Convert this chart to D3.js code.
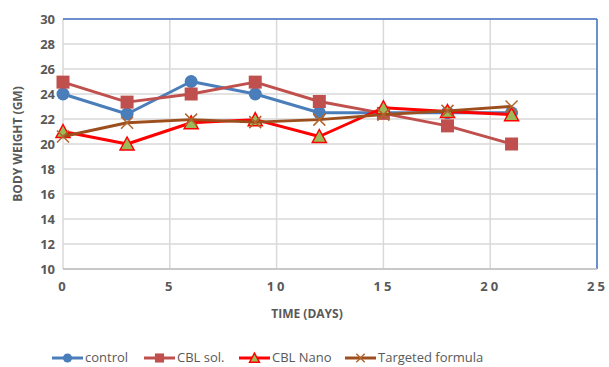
<!DOCTYPE html>
<html><head><meta charset="utf-8">
<script src="https://cdn.jsdelivr.net/npm/d3@7"></script>
<style>body{margin:0;background:#fff}svg{display:block}</style>
</head><body><svg id="c" width="609" height="367"></svg>
<script>
const days = [0, 3, 6, 9, 12, 15, 18, 21];
const control = [24, 22.4, 25, 24, 22.5, 22.5, 22.5, 22.5];
const cblSol = [24.95, 23.35, 24, 24.95, 23.4, 22.45, 21.45, 20];
const cblNano = [21, 20, 21.7, 21.95, 20.6, 22.9, 22.6, 22.35];
const targeted = [20.6, 21.7, 21.95, 21.75, 21.95, 22.35, 22.65, 23];
const seriesNames = ["control", "CBL sol.", "CBL Nano", "Targeted formula"];
const xTicks = [0, 5, 10, 15, 20, 25];
const yTicks = [10, 12, 14, 16, 18, 20, 22, 24, 26, 28, 30];

const svg = d3.select("#c");
const font = "'Open Sans', 'Liberation Sans', sans-serif";
const x = d3.scaleLinear().domain([0, 25]).range([63, 597]);
const y = d3.scaleLinear().domain([10, 30]).range([269, 19]);

// gridlines
svg.append("g").selectAll("line").data(yTicks).join("line")
  .attr("x1", x(0)).attr("x2", x(25)).attr("y1", d => y(d)).attr("y2", d => y(d))
  .attr("stroke", "#d9d9d9").attr("stroke-width", 1.5);
svg.append("g").selectAll("line").data(xTicks).join("line")
  .attr("y1", y(10)).attr("y2", y(30)).attr("x1", d => x(d)).attr("x2", d => x(d))
  .attr("stroke", "#d9d9d9").attr("stroke-width", 1.5);
// borders
svg.append("line").attr("x1", x(0)).attr("x2", x(25)).attr("y1", y(30)).attr("y2", y(30)).attr("stroke", "#4472c4").attr("stroke-width", 1.5);
svg.append("line").attr("x1", x(25)).attr("x2", x(25)).attr("y1", y(30)).attr("y2", y(10)).attr("stroke", "#4472c4").attr("stroke-width", 1.5);
svg.append("line").attr("x1", x(0)).attr("x2", x(25)).attr("y1", y(10)).attr("y2", y(10)).attr("stroke", "#bfbfbf").attr("stroke-width", 1.5);

// axes
const yAxis = d3.axisLeft(y).tickValues(yTicks).tickSize(0).tickPadding(8);
const gy = svg.append("g").attr("transform", `translate(${x(0)},0)`).call(yAxis);
gy.select(".domain").remove();
gy.selectAll("text").attr("font-family", font).attr("font-size", 13).attr("font-weight", "bold").attr("fill", "#595959");

const xAxis = d3.axisBottom(x).tickValues(xTicks).tickSize(0).tickPadding(10);
const gx = svg.append("g").attr("transform", `translate(0,${y(10)})`).call(xAxis);
gx.select(".domain").remove();
gx.selectAll("text").attr("font-family", font).attr("font-size", 13).attr("font-weight", "bold").attr("fill", "#595959").attr("letter-spacing", "3px").attr("dy", "0.9em");

svg.append("text").attr("x", 307).attr("y", 318).attr("text-anchor", "middle")
  .attr("font-family", font).attr("font-size", 12).attr("font-weight", "bold").attr("fill", "#595959").text("TIME (DAYS)");
svg.append("text").attr("transform", "translate(22,144) rotate(-90)").attr("text-anchor", "middle")
  .attr("font-family", font).attr("font-size", 12).attr("font-weight", "bold").attr("fill", "#595959").text("BODY WEIGHT (GM)");

const series = [
  {name: seriesNames[0], vals: control, color: "#4a7ebb", marker: "circle"},
  {name: seriesNames[1], vals: cblSol, color: "#c0504d", marker: "square"},
  {name: seriesNames[2], vals: cblNano, color: "#ff0000", marker: "triangle"},
  {name: seriesNames[3], vals: targeted, color: "#9c4f1c", marker: "cross"}
];

function drawMarker(g, type, cx, cy, s) {
  const k = s || 1;
  if (type === "circle") g.append("circle").attr("cx", cx).attr("cy", cy).attr("r", 6.5 * k).attr("fill", "#4a7ebb");
  else if (type === "square") g.append("rect").attr("x", cx - 6.5 * k).attr("y", cy - 6.5 * k).attr("width", 13 * k).attr("height", 13 * k).attr("fill", "#c0504d");
  else if (type === "triangle") g.append("path").attr("d", `M${cx},${cy - 7 * k}L${cx + 7 * k},${cy + 6 * k}L${cx - 7 * k},${cy + 6 * k}Z`).attr("fill", "#9bbb59").attr("stroke", "#ff0000").attr("stroke-width", 1.5);
  else if (type === "cross") g.append("path").attr("d", `M${cx - 6 * k},${cy - 6 * k}L${cx + 6 * k},${cy + 6 * k}M${cx - 6 * k},${cy + 6 * k}L${cx + 6 * k},${cy - 6 * k}`).attr("stroke", "#b0662e").attr("stroke-width", 1.5);
}

const line = d3.line().x(d => x(d[0])).y(d => y(d[1]));
series.forEach(s => {
  const g = svg.append("g");
  g.append("path").attr("d", line(days.map((d, i) => [d, s.vals[i]])))
    .attr("fill", "none").attr("stroke", s.color).attr("stroke-width", 3).attr("stroke-linejoin", "round");
  days.forEach((d, i) => drawMarker(g, s.marker, x(d), y(s.vals[i])));
});

// legend
const legX = [52, 144, 239, 345];
series.forEach((s, i) => {
  const g = svg.append("g");
  const lx = legX[i], ly = 358;
  g.append("line").attr("x1", lx).attr("x2", lx + 31).attr("y1", ly).attr("y2", ly).attr("stroke", s.color).attr("stroke-width", 3);
  drawMarker(g, s.marker, lx + 15.5, ly, 0.7);
  g.append("text").attr("x", lx + 33).attr("y", ly + 4).attr("font-family", font).attr("font-size", 13).attr("fill", "#595959").text(s.name);
});
</script></body></html>
